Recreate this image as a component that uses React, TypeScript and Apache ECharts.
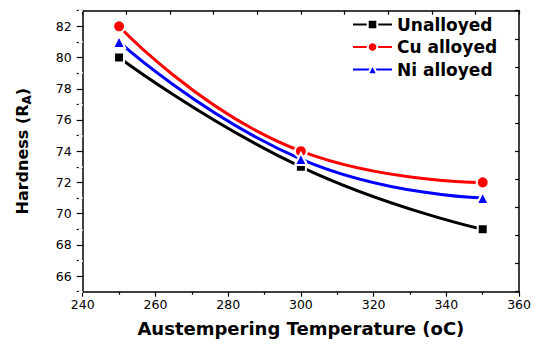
import React, { useEffect, useRef } from "react";
import * as echarts from "echarts";

const temperatures = [250, 300, 350];
const unalloyed = [80, 73, 69];
const cuAlloyed = [82, 74, 72];
const niAlloyed = [81, 73.5, 71];
const seriesNames = ["Unalloyed", "Cu alloyed", "Ni alloyed"];

const FONT = "'DejaVu Sans', Arial, sans-serif";

export default function App() {
  const ref = useRef<HTMLDivElement>(null);
  useEffect(() => {
    if (!ref.current) return;
    const chart = echarts.init(ref.current, null, { renderer: "svg" });
    const mk = (name: string, vals: number[], color: string, symbol: string, size: number) => ({
      name,
      type: "line",
      xAxisIndex: 0,
      yAxisIndex: 0,
      smooth: true,
      data: temperatures.map((t, i) => [t, vals[i]]),
      symbol,
      symbolSize: size,
      lineStyle: { color, width: 3 },
      itemStyle: { color, borderColor: "#fff", borderWidth: 2 },
      z: 3,
    });
    chart.setOption({
      animation: false,
      backgroundColor: "#fff",
      grid: { left: 82.7, right: 13.3, top: 10.7, bottom: 52.3 },
      legend: {
        orient: "vertical",
        left: 347,
        top: 11,
        itemWidth: 39,
        itemHeight: 12,
        itemGap: 5.5,
        data: seriesNames,
        textStyle: { fontFamily: FONT, fontWeight: "bold", fontSize: 17, color: "#000", padding: [0, 0, 0, 0] },
      },
      xAxis: [
        {
          type: "value",
          min: 240,
          max: 360,
          interval: 20,
          position: "bottom",
          axisLine: { show: true, lineStyle: { color: "#000", width: 1.5 } },
          axisTick: { show: true, inside: false, length: 5, lineStyle: { color: "#000", width: 1.2 } },
          minorTick: { show: true, splitNumber: 2, length: 3, lineStyle: { color: "#000", width: 1.2 } },
          splitLine: { show: false },
          axisLabel: { fontFamily: FONT, fontSize: 12.5, color: "#000", margin: 6 },
          name: "Austempering Temperature (oC)",
          nameLocation: "middle",
          nameGap: 28,
          nameTextStyle: { fontFamily: FONT, fontWeight: "bold", fontSize: 18, color: "#000" },
        },
        {
          type: "value",
          min: 0,
          max: 10,
          interval: 1,
          position: "top",
          axisLine: { show: true, onZero: false, lineStyle: { color: "#000", width: 1.5 } },
          axisTick: { show: true, inside: true, length: 4, lineStyle: { color: "#000", width: 1.2 } },
          axisLabel: { show: false },
          splitLine: { show: false },
        },
      ],
      yAxis: [
        {
          type: "value",
          min: 65,
          max: 83,
          interval: 1,
          position: "left",
          axisLine: { show: true, onZero: false, lineStyle: { color: "#000", width: 1.5 } },
          axisTick: { show: true, inside: false, length: 6, lineStyle: { color: "#000", width: 1.2 } },
          splitLine: { show: false },
          axisLabel: {
            fontFamily: FONT,
            fontSize: 12.5,
            color: "#000",
            margin: 11,
            formatter: (v: number) => (Math.round(v) % 2 === 0 ? String(v) : ""),
          },
          name: "{a|Hardness (R}{b|A}{a|)}",
          nameLocation: "middle",
          nameGap: 50,
          nameTextStyle: {
            rich: {
              a: { fontFamily: FONT, fontWeight: "bold", fontSize: 16, color: "#000" },
              b: { fontFamily: FONT, fontWeight: "bold", fontSize: 12, color: "#000", padding: [8, 0, 0, 0] },
            },
          },
        },
        {
          type: "value",
          min: 65,
          max: 83,
          interval: 2,
          position: "left",
          offset: 3,
          axisLine: { show: false },
          axisTick: { show: true, inside: false, length: 4, lineStyle: { color: "#fff", width: 2 } },
          axisLabel: { show: false },
          splitLine: { show: false },
          z: 5,
        },
        {
          type: "value",
          min: 0,
          max: 10,
          interval: 1,
          position: "right",
          axisLine: { show: true, onZero: false, lineStyle: { color: "#000", width: 1.5 } },
          axisTick: { show: true, inside: true, length: 4, lineStyle: { color: "#000", width: 1.2 } },
          axisLabel: { show: false },
          splitLine: { show: false },
        },
      ],
      series: [
        mk(seriesNames[0], unalloyed, "#000000", "rect", 10),
        mk(seriesNames[1], cuAlloyed, "#ff0000", "circle", 12),
        mk(seriesNames[2], niAlloyed, "#0000ff", "triangle", 12),
      ],
    });
    return () => chart.dispose();
  }, []);
  return <div ref={ref} style={{ width: 534, height: 344, position: "absolute", left: 0, top: 0 }} />;
}
